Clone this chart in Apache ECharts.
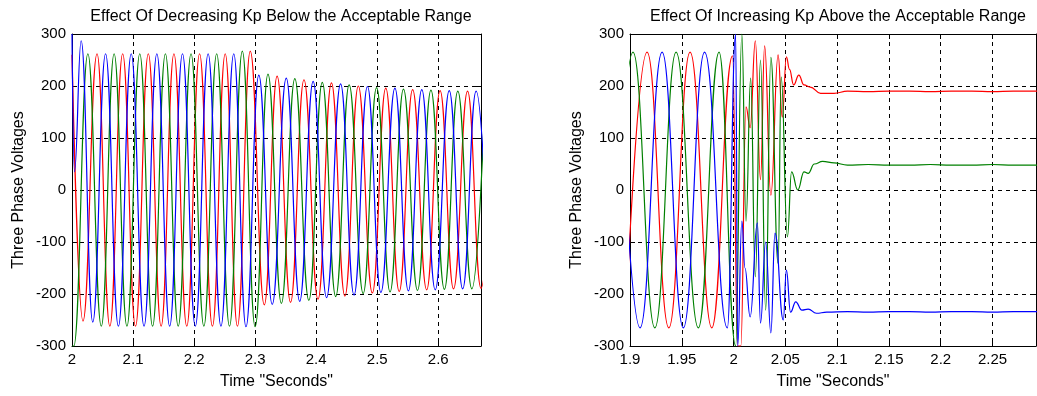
<!DOCTYPE html>
<html><head><meta charset="utf-8">
<script src="https://cdn.jsdelivr.net/npm/echarts@6/dist/echarts.min.js"></script>
<style>html,body{margin:0;padding:0;background:#fff}#c{width:1037px;height:396px}</style>
</head><body><div id="c"></div>
<script>
// ---------- texts ----------
const leftTitle = 'Effect Of Decreasing Kp Below the Acceptable Range';
const rightTitle = 'Effect Of Increasing Kp Above the Acceptable Range';
const yName = 'Three Phase Voltages';
const xName = 'Time "Seconds"';

// ---------- axis ranges / ticks ----------
const leftX = { min: 2, max: 2.67, interval: 0.1 };
const rightX = { min: 1.9, max: 2.292, interval: 0.05 };
const yRange = { min: -300, max: 300, interval: 100 };

// ---------- left plot: [time, volts] extremes ----------
const leftRed = [[2.0,260],[2.018,-252],[2.041,262],[2.062,-262],[2.083,262],[2.104,-262],[2.125,262],[2.146,-262],[2.167,262],[2.188,-262],[2.209,262],[2.230,-262],[2.251,262],[2.271,-262],[2.292,267],[2.315,-221],[2.336,219],[2.358,-216],[2.380,212],[2.403,-210],[2.425,206],[2.447,-204],[2.469,200],[2.492,-198],[2.514,196],[2.536,-195],[2.558,193],[2.581,-192],[2.603,191],[2.625,-190],[2.648,190],[2.670,-189],[2.692,189]];
const leftGreen = [[2.0,-300],[2.003,-300],[2.026,262],[2.048,-262],[2.069,262],[2.090,-262],[2.111,262],[2.132,-262],[2.153,262],[2.174,-262],[2.195,262],[2.216,-262],[2.237,262],[2.258,-262],[2.279,267],[2.300,-263],[2.321,223],[2.343,-218],[2.365,214],[2.388,-212],[2.410,207],[2.432,-205],[2.454,202],[2.477,-199],[2.499,197],[2.521,-196],[2.543,194],[2.566,-193],[2.588,192],[2.610,-191],[2.632,190],[2.655,-190],[2.677,189]];
const leftBlue = [[2.0,300],[2.004,35],[2.015,287],[2.034,-254],[2.055,262],[2.076,-262],[2.097,262],[2.118,-262],[2.139,262],[2.160,-262],[2.181,262],[2.202,-262],[2.223,262],[2.244,-262],[2.265,262],[2.285,-263],[2.306,221],[2.328,-220],[2.351,215],[2.373,-214],[2.395,209],[2.417,-207],[2.440,204],[2.462,-202],[2.484,199],[2.506,-197],[2.529,196],[2.551,-194],[2.573,193],[2.595,-192],[2.618,191],[2.640,-190],[2.662,190],[2.684,-189]];

// ---------- right plot ----------
const rightRed = [[1.8955,-265],[1.9165,265],[1.9375,-265],[1.958,265],[1.979,-265],[1.999,258],[2.004,-300],[2.007,-300],[2.012,160],[2.016,120],[2.021,287],[2.026,20],[2.030,277],[2.036,-10],[2.043,260],[2.047,140],[2.051,256],[2.054,232],[2.058,202],[2.063,221],[2.068,202],[2.074,198],[2.084,186],[2.097,186],[2.11,190],[2.13,189],[2.15,190],[2.17,190],[2.19,189],[2.21,190],[2.23,190],[2.25,189],[2.27,190],[2.30,190]];
const rightGreen = [[1.882,-265],[1.9029,265],[1.924,-265],[1.9445,265],[1.966,-265],[1.986,265],[2.002,-300],[2.008,300],[2.012,-60],[2.0165,215],[2.021,-167],[2.026,250],[2.031,-231],[2.036,255],[2.043,-141],[2.046,217],[2.052,-90],[2.056,35],[2.062,0],[2.068,35],[2.072,32],[2.078,50],[2.086,55],[2.097,52],[2.11,48],[2.13,49],[2.15,48],[2.17,48],[2.19,49],[2.21,48],[2.23,48],[2.25,49],[2.27,48],[2.30,48]];
const rightBlue = [[1.889,265],[1.9097,-265],[1.931,265],[1.9515,-265],[1.972,265],[1.994,-265],[2.002,300],[2.004,-300],[2.008,-60],[2.011,-150],[2.016,-244],[2.023,-63],[2.026,-256],[2.031,-100],[2.036,-275],[2.040,-83],[2.048,-250],[2.051,-154],[2.055,-235],[2.060,-215],[2.066,-231],[2.072,-229],[2.080,-237],[2.090,-235],[2.11,-234],[2.13,-235],[2.15,-234],[2.17,-234],[2.19,-235],[2.21,-234],[2.23,-234],[2.25,-235],[2.27,-234],[2.30,-234]];

const phaseColors = { red: '#ff0000', green: '#008000', blue: '#0000ff' };

// ---------- chart ----------
const FONT = 'Liberation Sans, Arial, sans-serif';
const TXT = { color: '#000', fontFamily: FONT, fontSize: 16 };
const TICK = { color: '#000', fontFamily: FONT, fontSize: 15 };
const grids = [
  { left: 72, right: 556, top: 34, bottom: 50 },
  { left: 630, right: 1, top: 34, bottom: 50 }
];
function fmt(v, step) {
  const k = Math.round(v / step);
  if (Math.abs(k * step - v) > 1e-6) return '';
  return String(+v.toFixed(3));
}
function xAxes(gi, r) {
  return [
    { type: 'value', gridIndex: gi, min: r.min, max: r.max, interval: r.interval,
      name: xName, nameLocation: 'middle', nameGap: 28, nameTextStyle: TXT,
      axisLine: { show: true, onZero: false, lineStyle: { color: '#000', width: 1 } },
      axisTick: { show: true, inside: true, length: 5, lineStyle: { color: '#000' } },
      axisLabel: { ...TICK, margin: 6, showMaxLabel: false, formatter: v => fmt(v, r.interval) },
      splitLine: { show: true, lineStyle: { color: '#000', type: [4, 4], width: 1 } } },
    { type: 'value', gridIndex: gi, position: 'top', min: r.min, max: r.max, interval: r.interval,
      axisLine: { show: true, onZero: false, lineStyle: { color: '#000', width: 1 } },
      axisTick: { show: true, inside: true, length: 5, lineStyle: { color: '#000' } },
      axisLabel: { show: false }, splitLine: { show: false } }
  ];
}
function yAxes(gi) {
  return [
    { type: 'value', gridIndex: gi, min: yRange.min, max: yRange.max, interval: yRange.interval,
      name: yName, nameLocation: 'middle', nameGap: 45, nameRotate: 90, nameTextStyle: TXT,
      axisLine: { show: true, onZero: false, lineStyle: { color: '#000', width: 1 } },
      axisTick: { show: true, inside: true, length: 5, lineStyle: { color: '#000' } },
      axisLabel: { ...TICK, margin: 6 },
      splitLine: { show: true, lineStyle: { color: '#000', type: [4, 4], width: 1 } } },
    { type: 'value', gridIndex: gi, position: 'right', min: yRange.min, max: yRange.max, interval: yRange.interval,
      axisLine: { show: true, onZero: false, lineStyle: { color: '#000', width: 1 } },
      axisTick: { show: true, inside: true, length: 5, lineStyle: { color: '#000' } },
      axisLabel: { show: false }, splitLine: { show: false } }
  ];
}
function line(data, color, xi, yi) {
  return { type: 'line', data, xAxisIndex: xi, yAxisIndex: yi, showSymbol: false, symbol: 'none',
    smooth: 0.45, smoothMonotone: 'x', clip: true, animation: false,
    lineStyle: { color, width: 1.2 }, itemStyle: { color } };
}
const chart = echarts.init(document.getElementById('c'), null, { renderer: 'canvas' });
chart.setOption({
  backgroundColor: '#fff',
  animation: false,
  title: [
    { text: leftTitle, left: 276, top: 4, textAlign: 'center', textStyle: { ...TXT, fontWeight: 'normal' } },
    { text: rightTitle, left: 833, top: 4, textAlign: 'center', textStyle: { ...TXT, fontWeight: 'normal' } }
  ],
  grid: grids,
  xAxis: [...xAxes(0, leftX), ...xAxes(1, rightX)],
  yAxis: [...yAxes(0), ...yAxes(1)],
  series: [
    line(leftRed, phaseColors.red, 0, 0),
    line(leftGreen, phaseColors.green, 0, 0),
    line(leftBlue, phaseColors.blue, 0, 0),
    line(rightRed, phaseColors.red, 2, 2),
    line(rightGreen, phaseColors.green, 2, 2),
    line(rightBlue, phaseColors.blue, 2, 2)
  ]
});
</script></body></html>
